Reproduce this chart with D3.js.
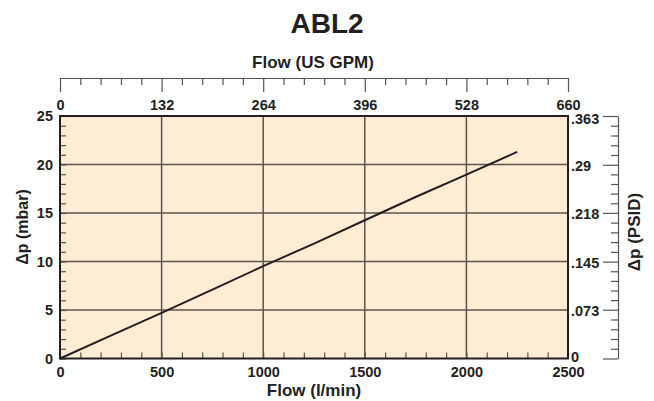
<!DOCTYPE html>
<html><head><meta charset="utf-8">
<script src="https://cdn.jsdelivr.net/npm/d3@7"></script>
<style>
body{margin:0;background:#fff;}
svg text{font-family:"Liberation Sans",Arial,Helvetica,sans-serif;font-weight:bold;fill:#231f20;}
</style></head>
<body><svg id="c" width="654" height="401"></svg>
<script>
// Data
const flowLmin = [0, 250, 500, 750, 1000, 1250, 1500, 1750, 2000, 2250];
const dpMbar   = [0, 2.35, 4.71, 7.1, 9.52, 11.85, 14.25, 16.65, 18.95, 21.3];
const xTicksLmin = [0, 500, 1000, 1500, 2000, 2500];
const xTicksGpm  = [0, 132, 264, 396, 528, 660];
const yTicksMbar = [0, 5, 10, 15, 20, 25];
const yTicksPsid = [0, 0.073, 0.145, 0.218, 0.29, 0.363];
const yTickPsidLabels = ["0", ".073", ".145", ".218", ".29", ".363"];
const title = "ABL2";

const svg = d3.select("#c");
const L = 60, R = 568, T = 116, B = 358.5;
const ink = "#231f20", grid = "#5b534d";

const x = d3.scaleLinear().domain([0, 2500]).range([L, R]);
const xg = d3.scaleLinear().domain([0, 660]).range([L, R]);
const y = d3.scaleLinear().domain([0, 25]).range([B, T]);
const yp = d3.scaleLinear().domain([0, 0.363]).range([B, T]);

// background
svg.append("rect").attr("x", L).attr("y", T).attr("width", R - L).attr("height", B - T)
  .attr("fill", "#feedd4");

// grid
svg.append("g").selectAll("line").data(xTicksLmin.slice(1, -1)).join("line")
  .attr("x1", d => x(d)).attr("x2", d => x(d)).attr("y1", T).attr("y2", B)
  .attr("stroke", grid).attr("stroke-width", 1.5);
svg.append("g").selectAll("line").data(yTicksMbar.slice(1, -1)).join("line")
  .attr("y1", d => y(d)).attr("y2", d => y(d)).attr("x1", L).attr("x2", R)
  .attr("stroke", grid).attr("stroke-width", 1.5);

// inner minor ticks
function styleAxis(g){ g.select(".domain").remove(); g.selectAll("line").attr("stroke", grid).attr("stroke-width", 1.2); }
svg.append("g").attr("transform", `translate(${L},0)`)
  .call(d3.axisRight(y).tickValues(d3.range(0, 26, 1)).tickSize(6).tickFormat(""))
  .call(styleAxis);
svg.append("g").attr("transform", `translate(0,${B})`)
  .call(d3.axisTop(x).tickValues(d3.range(0, 2501, 100)).tickSize(6).tickFormat(""))
  .call(styleAxis);

// frame
svg.append("rect").attr("x", L).attr("y", T).attr("width", R - L).attr("height", B - T)
  .attr("fill", "none").attr("stroke", ink).attr("stroke-width", 2);

// data line
svg.append("path").datum(flowLmin.map((f, i) => [f, dpMbar[i]]))
  .attr("d", d3.line().x(d => x(d[0])).y(d => y(d[1])))
  .attr("fill", "none").attr("stroke", ink).attr("stroke-width", 2);

// bottom labels
const fs = "14.5px";
const gb = svg.append("g").attr("transform", `translate(0,${B})`)
  .call(d3.axisBottom(x).tickValues(xTicksLmin).tickSize(0).tickPadding(8).tickFormat(d3.format("d")));
gb.select(".domain").remove();
gb.selectAll("text").attr("font-size", fs).attr("font-family", null);

// left labels
const gl = svg.append("g").attr("transform", `translate(${L},0)`)
  .call(d3.axisLeft(y).tickValues(yTicksMbar).tickSize(0).tickPadding(7));
gl.select(".domain").remove();
gl.selectAll("text").attr("font-size", fs).attr("font-family", null);

// top axis (US GPM)
const topY = 78;
const minorG = [];
for (let i = 0; i < xTicksGpm.length - 1; i++)
  for (let k = 1; k < 5; k++) minorG.push(xTicksGpm[i] + (xTicksGpm[i + 1] - xTicksGpm[i]) * k / 5);
const gtm = svg.append("g").attr("transform", `translate(0,${topY})`)
  .call(d3.axisBottom(xg).tickValues(minorG).tickSize(7).tickSizeOuter(0).tickFormat(""));
gtm.select(".domain").attr("stroke", grid).attr("stroke-width", 1.2);
gtm.selectAll("line").attr("stroke", grid).attr("stroke-width", 1.2);
const gt = svg.append("g").attr("transform", `translate(0,${topY})`)
  .call(d3.axisBottom(xg).tickValues(xTicksGpm).tickSize(14).tickSizeOuter(0).tickPadding(8));
gt.select(".domain").remove();
gt.selectAll("line").attr("stroke", grid).attr("stroke-width", 1.2);
gt.selectAll("text").attr("font-size", fs).attr("font-family", null);

// right axis (PSID)
const rX = 618;
const minorP = [];
for (let i = 0; i < yTicksPsid.length - 1; i++)
  for (let k = 1; k < 5; k++) minorP.push(yTicksPsid[i] + (yTicksPsid[i + 1] - yTicksPsid[i]) * k / 5);
const grm = svg.append("g").attr("transform", `translate(${rX},0)`)
  .call(d3.axisLeft(yp).tickValues(minorP).tickSize(7).tickSizeOuter(0).tickFormat(""));
grm.select(".domain").attr("stroke", grid).attr("stroke-width", 1.2);
grm.selectAll("line").attr("stroke", grid).attr("stroke-width", 1.2);
const gr = svg.append("g").attr("transform", `translate(${rX},0)`)
  .call(d3.axisLeft(yp).tickValues(yTicksPsid).tickSize(15).tickSizeOuter(0).tickFormat(""));
gr.select(".domain").remove();
gr.selectAll("line").attr("stroke", grid).attr("stroke-width", 1.2);
svg.append("g").selectAll("text").data(yTicksPsid).join("text")
  .attr("x", 571).attr("y", d => yp(d))
  .attr("dy", (d, i) => i === 0 ? "0.25em" : (i === yTicksPsid.length - 1 ? "0.55em" : "0.45em"))
  .attr("font-size", fs).attr("text-anchor", "start")
  .text((d, i) => yTickPsidLabels[i]);

// titles
svg.append("text").attr("x", 327).attr("y", 33).attr("text-anchor", "middle")
  .attr("font-size", "28px").text(title);
svg.append("text").attr("x", 313).attr("y", 68).attr("text-anchor", "middle")
  .attr("font-size", "17px").text("Flow (US GPM)");
svg.append("text").attr("x", 314).attr("y", 396).attr("text-anchor", "middle")
  .attr("font-size", "17px").text("Flow (l/min)");
svg.append("text").attr("transform", "translate(28,227) rotate(-90)").attr("text-anchor", "middle")
  .attr("font-size", "16px").text("Δp (mbar)");
svg.append("text").attr("transform", "translate(640,232) rotate(-90)").attr("text-anchor", "middle")
  .attr("font-size", "17px").text("Δp (PSID)");
</script></body></html>
